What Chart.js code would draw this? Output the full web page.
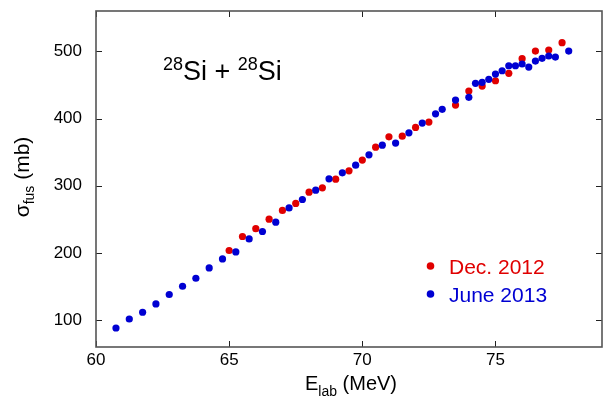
<!DOCTYPE html>
<html>
<head>
<meta charset="utf-8">
<script src="https://cdn.jsdelivr.net/npm/chart.js@4"></script>
<style>
  html, body { margin: 0; padding: 0; background: #fff; }
  #wrap { width: 606px; height: 398px; }
</style>
</head>
<body>
<div id="wrap"><canvas id="fusionChart" width="606" height="398"></canvas></div>
<script>
// Dec. 2012 run
const decEnergy = [65.0, 65.5, 66.0, 66.5, 67.0, 67.5, 68.0, 68.5, 69.0, 69.5, 70.0, 70.5,
                   71.0, 71.5, 72.0, 72.5, 73.5, 74.0, 74.5, 75.0, 75.5, 76.0, 76.5, 77.0, 77.5];
const decSigma  = [203.6, 224.4, 236.1, 250.2, 263.2, 273.6, 290.4, 296.8, 309.8, 322.1, 338.1, 357.4,
                   372.8, 373.8, 386.8, 394.7, 420.0, 440.8, 448.3, 456.2, 467.2, 489.0, 500.4, 501.9, 512.8];

// June 2013 run
const juneEnergy = [60.75, 61.25, 61.75, 62.25, 62.75, 63.25, 63.75, 64.25, 64.75, 65.25, 65.75, 66.25,
                    66.75, 67.25, 67.75, 68.25, 68.75, 69.25, 69.75, 70.25, 70.75, 71.25, 71.75, 72.25,
                    72.75, 73.0, 73.5, 74.0, 74.25, 74.5, 74.75, 75.0, 75.25, 75.5, 75.75, 76.0,
                    76.25, 76.5, 76.75, 77.0, 77.25, 77.75];
const juneSigma  = [88.3, 101.7, 111.7, 124.1, 138.1, 150.4, 162.3, 177.7, 191.1, 201.5, 220.9, 231.9,
                    245.7, 267.0, 279.5, 293.4, 310.2, 319.2, 330.6, 346.0, 360.4, 363.4, 378.7, 393.2,
                    407.0, 413.7, 427.4, 431.5, 452.3, 453.8, 458.3, 466.2, 471.1, 478.5, 478.5, 481.1,
                    476.6, 485.5, 489.6, 493.0, 491.5, 500.4];

const xTicks = [60, 65, 70, 75];
const yTicks = [100, 200, 300, 400, 500];

const RED = '#e00000';
const BLUE = '#0000d2';
const FONT = '"Liberation Sans", Arial, Helvetica, sans-serif';

const toPoints = (xs, ys) => xs.map((x, i) => ({ x: x, y: ys[i] }));

// draw a run of text pieces (size, vertical shift) starting at x on baseline y
function drawRuns(ctx, x, y, runs, align) {
    let total = 0;
    runs.forEach(r => {
        ctx.font = r.size + 'px ' + FONT;
        r.w = ctx.measureText(r.t).width;
        total += r.w;
    });
    let cx = align === 'center' ? x - total / 2 : x;
    runs.forEach(r => {
        ctx.font = r.size + 'px ' + FONT;
        ctx.fillText(r.t, cx, y + (r.dy || 0));
        cx += r.w;
    });
}

const framePlugin = {
    id: 'frame',
    afterDatasetsDraw(chart) {
        const { ctx, chartArea: a, scales } = chart;
        const tl = 6;
        ctx.save();
        ctx.strokeStyle = '#222';
        ctx.lineWidth = 1;
        ctx.beginPath();
        xTicks.forEach(v => {
            const px = Math.round(scales.x.getPixelForValue(v)) + 0.5;
            ctx.moveTo(px, a.bottom); ctx.lineTo(px, a.bottom - tl);
            ctx.moveTo(px, a.top); ctx.lineTo(px, a.top + tl);
        });
        yTicks.forEach(v => {
            const py = Math.round(scales.y.getPixelForValue(v)) + 0.5;
            ctx.moveTo(a.left, py); ctx.lineTo(a.left + tl, py);
            ctx.moveTo(a.right, py); ctx.lineTo(a.right - tl, py);
        });
        ctx.stroke();
        ctx.strokeStyle = '#555';
        ctx.lineWidth = 1.6;
        ctx.strokeRect(a.left, a.top, a.right - a.left, a.bottom - a.top);
        ctx.restore();
    }
};

const labelPlugin = {
    id: 'labels',
    afterDraw(chart) {
        const { ctx, chartArea: a } = chart;
        ctx.save();
        ctx.textBaseline = 'alphabetic';
        ctx.textAlign = 'left';
        ctx.fillStyle = '#000';

        // reaction label
        drawRuns(ctx, 163, 80, [
            { t: '28', size: 18, dy: -10 },
            { t: 'Si + ', size: 27 },
            { t: '28', size: 18, dy: -10 },
            { t: 'Si', size: 27 }
        ]);

        // x axis title
        drawRuns(ctx, (a.left + a.right) / 2 + 2, 390, [
            { t: 'E', size: 20 },
            { t: 'lab', size: 14, dy: 6 },
            { t: ' (MeV)', size: 20 }
        ], 'center');

        // y axis title
        ctx.save();
        ctx.translate(29, (a.top + a.bottom) / 2 - 2);
        ctx.rotate(-Math.PI / 2);
        drawRuns(ctx, 0, 0, [
            { t: 'σ', size: 21 },
            { t: 'fus', size: 14, dy: 5 },
            { t: ' (mb)', size: 21 }
        ], 'center');
        ctx.restore();

        // legend
        const items = [
            { label: 'Dec. 2012', color: RED, y: 266 },
            { label: 'June 2013', color: BLUE, y: 294 }
        ];
        items.forEach(it => {
            ctx.fillStyle = it.color;
            ctx.beginPath();
            ctx.arc(430.5, it.y, 3.8, 0, Math.PI * 2);
            ctx.fill();
            ctx.font = '21px ' + FONT;
            ctx.fillText(it.label, 449, it.y + 7.5);
        });
        ctx.restore();
    }
};

const chart = new Chart(document.getElementById('fusionChart'), {
    type: 'scatter',
    data: {
        datasets: [
            {
                label: 'June 2013',
                data: toPoints(juneEnergy, juneSigma),
                backgroundColor: BLUE,
                borderWidth: 0,
                pointRadius: 3.6
            },
            {
                label: 'Dec. 2012',
                data: toPoints(decEnergy, decSigma),
                backgroundColor: RED,
                borderWidth: 0,
                pointRadius: 3.6
            }
        ]
    },
    options: {
        responsive: false,
        animation: false,
        layout: { padding: { top: 11, right: 1, left: 0, bottom: 0 } },
        plugins: {
            legend: { display: false },
            tooltip: { enabled: false }
        },
        scales: {
            x: {
                type: 'linear',
                min: 60,
                max: 79,
                afterBuildTicks: s => { s.ticks = xTicks.map(v => ({ value: v })); },
                afterFit: s => { s.height = 51; s.paddingLeft = 0; s.paddingRight = 0; },
                grid: { display: false, drawTicks: false },
                border: { display: false },
                ticks: {
                    color: '#000',
                    padding: 3,
                    maxRotation: 0,
                    font: { family: FONT, size: 17 }
                }
            },
            y: {
                type: 'linear',
                min: 60,
                max: 560,
                afterBuildTicks: s => { s.ticks = yTicks.map(v => ({ value: v })); },
                afterFit: s => { s.width = 96; s.paddingTop = 0; s.paddingBottom = 0; },
                grid: { display: false, drawTicks: false },
                border: { display: false },
                ticks: {
                    color: '#000',
                    padding: 14,
                    font: { family: FONT, size: 17 }
                }
            }
        }
    },
    plugins: [framePlugin, labelPlugin]
});
</script>
</body>
</html>
